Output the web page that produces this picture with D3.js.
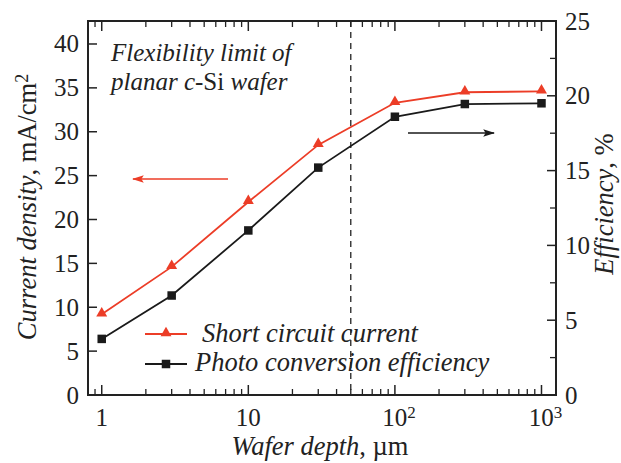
<!DOCTYPE html>
<html>
<head>
<meta charset="utf-8">
<script src="https://cdn.jsdelivr.net/npm/d3@7"></script>
<style>
body { margin: 0; background: #fff; }
</style>
</head>
<body>
<div id="chart"></div>
<script>
var width = 621,
    height = 463;

// data
var depth = [1, 3, 10, 30, 100, 300, 1000];
var current = [9.2, 14.6, 22.0, 28.5, 33.3, 34.5, 34.6];      // mA/cm2, left axis
var efficiency = [3.75, 6.65, 11.0, 15.2, 18.6, 19.45, 19.5];  // %, right axis
var leftTicks = [0, 5, 10, 15, 20, 25, 30, 35, 40];
var rightTicks = [0, 5, 10, 15, 20, 25];
var xMajor = [1, 10, 100, 1000];
var xMajorLabels = ["1", "10", "10|2", "10|3"];
var flexLimit = 50;

var red = "#ec3d27";
var ink = "#222";
var serif = "'Liberation Serif', monospace";
var tickFont = "25px",
    textFont = "26.5px";
var plot = {left: 88, right: 556, top: 21, bottom: 395};

var svg = d3.select("#chart").append("svg")
    .attr("width", width)
    .attr("height", height);

var x = d3.scaleLog().domain([0.806, 1256]).range([plot.left, plot.right]);
var yL = d3.scaleLinear().domain([0, 42.62]).range([plot.bottom, plot.top]);
var yR = d3.scaleLinear().domain([0, 25]).range([plot.bottom, plot.top]);

// minor ticks on x
var xMinor = [];
[0.1, 1, 10, 100].forEach(function(dec) {
    for (var k = 2; k <= 9; k++) {
        var v = dec * k;
        if (v > x.domain()[0] && v < x.domain()[1] && xMajor.indexOf(v) < 0) xMinor.push(v);
    }
});

var axisG = svg.append("g");
// bottom and top ticks, pointing inward
[plot.bottom, plot.top].forEach(function(yy, i) {
    var dir = i == 0 ? -1 : 1;
    axisG.selectAll(null).data(xMajor).enter().append("line")
        .attr("x1", function(d) { return x(d); })
        .attr("x2", function(d) { return x(d); })
        .attr("y1", yy).attr("y2", yy + dir * 10)
        .attr("stroke", ink).attr("stroke-width", 1.5);
    axisG.selectAll(null).data(xMinor).enter().append("line")
        .attr("x1", function(d) { return x(d); })
        .attr("x2", function(d) { return x(d); })
        .attr("y1", yy).attr("y2", yy + dir * 6)
        .attr("stroke", ink).attr("stroke-width", 1.3);
});

// left ticks
axisG.selectAll(null).data(leftTicks).enter().append("line")
    .attr("x1", plot.left).attr("x2", plot.left + 9)
    .attr("y1", function(d) { return yL(d); })
    .attr("y2", function(d) { return yL(d); })
    .attr("stroke", ink).attr("stroke-width", 1.5);
axisG.selectAll(null).data(leftTicks).enter().append("text")
    .attr("x", plot.left - 9)
    .attr("y", function(d) { return yL(d); })
    .attr("dy", "0.34em")
    .attr("text-anchor", "end")
    .style("font-size", tickFont)
    .text(function(d) { return d; });

// right ticks, major and half steps
var rightMinor = d3.range(2.5, 25, 5);
axisG.selectAll(null).data(rightTicks).enter().append("line")
    .attr("x1", plot.right).attr("x2", plot.right - 9)
    .attr("y1", function(d) { return yR(d); })
    .attr("y2", function(d) { return yR(d); })
    .attr("stroke", ink).attr("stroke-width", 1.5);
axisG.selectAll(null).data(rightMinor).enter().append("line")
    .attr("x1", plot.right).attr("x2", plot.right - 6)
    .attr("y1", function(d) { return yR(d); })
    .attr("y2", function(d) { return yR(d); })
    .attr("stroke", ink).attr("stroke-width", 1.3);
axisG.selectAll(null).data(rightTicks).enter().append("text")
    .attr("x", plot.right + 9)
    .attr("y", function(d) { return yR(d); })
    .attr("dy", "0.34em")
    .style("font-size", tickFont)
    .text(function(d) { return d; });

// x tick labels
xMajor.forEach(function(v, i) {
    var parts = xMajorLabels[i].split("|");
    var t = axisG.append("text")
        .attr("x", x(v) + (parts[1] ? 4 : 0))
        .attr("y", 426)
        .attr("text-anchor", "middle")
        .style("font-size", tickFont);
    t.append("tspan").text(parts[0]);
    if (parts[1]) t.append("tspan").attr("dy", "-0.45em").style("font-size", "17px").text(parts[1]);
});

// frame
svg.append("rect")
    .attr("x", plot.left).attr("y", plot.top)
    .attr("width", plot.right - plot.left)
    .attr("height", plot.bottom - plot.top)
    .attr("fill", "none").attr("stroke", ink).attr("stroke-width", 2);

// flexibility limit
svg.append("line")
    .attr("x1", x(flexLimit)).attr("x2", x(flexLimit))
    .attr("y1", plot.top).attr("y2", plot.bottom)
    .attr("stroke", ink).attr("stroke-width", 1.3)
    .attr("stroke-dasharray", "6,5");

// note, a touch smaller so the two lines keep apart
svg.append("text").attr("x", 111).attr("y", 61)
    .style("font-size", "25px").style("font-style", "italic")
    .text("Flexibility limit of");
var note2 = svg.append("text").attr("x", 111).attr("y", 90)
    .style("font-size", "25px").style("font-style", "italic");
note2.append("tspan").text("planar ");
note2.append("tspan").text("c");
note2.append("tspan").style("font-style", "normal").text("-Si ");
note2.append("tspan").text("wafer");

// data lines
var lineL = d3.line().x(function(d) { return x(d[0]); }).y(function(d) { return yL(d[1]); });
var lineR = d3.line().x(function(d) { return x(d[0]); }).y(function(d) { return yR(d[1]); });
var curData = d3.zip(depth, current);
var effData = d3.zip(depth, efficiency);

svg.append("path").datum(curData).attr("d", lineL)
    .attr("fill", "none").attr("stroke", red).attr("stroke-width", 1.8);
svg.append("path").datum(effData).attr("d", lineR)
    .attr("fill", "none").attr("stroke", "#1a1a1a").attr("stroke-width", 1.8);

var tri = d3.symbol().type(d3.symbolTriangle).size(52);
svg.selectAll("path.tri").data(curData).enter().append("path")
    .attr("class", "tri")
    .attr("d", tri)
    .attr("transform", function(d) { return "translate(" + x(d[0]) + "," + (yL(d[1]) - 1) + ")"; })
    .attr("fill", red);
svg.selectAll("rect.sq").data(effData).enter().append("rect")
    .attr("class", "sq")
    .attr("x", function(d) { return x(d[0]) - 4.25; })
    .attr("y", function(d) { return yR(d[1]) - 4.25; })
    .attr("width", 8.5).attr("height", 8.5)
    .attr("fill", "#1a1a1a");

// arrows
var defs = svg.append("defs");
function arrowHead(id, color) {
    defs.append("marker").attr("id", id)
        .attr("viewBox", "0 0 10 10").attr("refX", 9).attr("refY", 5)
        .attr("markerWidth", 12).attr("markerHeight", 12)
        .attr("markerUnits", "userSpaceOnUse")
        .attr("orient", "auto")
        .append("path").attr("d", "M0,1.8 L10,5 L0,8.2 L2,5 Z").attr("fill", color);
}
arrowHead("ahRed", red);
arrowHead("ahBlack", "#1a1a1a");
svg.append("line").attr("x1", 228).attr("x2", 133).attr("y1", 179).attr("y2", 179)
    .attr("stroke", red).attr("stroke-width", 1.3).attr("marker-end", "url(#ahRed)");
svg.append("line").attr("x1", 408).attr("x2", 494).attr("y1", 133).attr("y2", 133)
    .attr("stroke", "#1a1a1a").attr("stroke-width", 1.3).attr("marker-end", "url(#ahBlack)");

// legend
var legend = svg.append("g");
legend.append("line").attr("x1", 145).attr("x2", 187).attr("y1", 334).attr("y2", 334)
    .attr("stroke", red).attr("stroke-width", 1.8);
legend.append("path").attr("d", tri).attr("transform", "translate(166,333)").attr("fill", red);
legend.append("text").attr("x", 202).attr("y", 342)
    .style("font-size", textFont).style("font-style", "italic").text("Short circuit current");
legend.append("line").attr("x1", 145).attr("x2", 187).attr("y1", 364).attr("y2", 364)
    .attr("stroke", "#1a1a1a").attr("stroke-width", 1.8);
legend.append("rect").attr("x", 161.75).attr("y", 359.75).attr("width", 8.5).attr("height", 8.5)
    .attr("fill", "#1a1a1a");
legend.append("text").attr("x", 195).attr("y", 371)
    .style("font-size", textFont).style("font-style", "italic").text("Photo conversion efficiency");

// axis titles
var xt = svg.append("text").attr("x", 320).attr("y", 455)
    .attr("text-anchor", "middle").style("font-size", textFont);
xt.append("tspan").style("font-style", "italic").text("Wafer depth");
xt.append("tspan").text(", \u00b5m");

var yt = svg.append("text")
    .attr("transform", "translate(36,207) rotate(-90)")
    .attr("text-anchor", "middle").style("font-size", textFont);
yt.append("tspan").style("font-style", "italic").text("Current density");
yt.append("tspan").text(", mA/cm");
yt.append("tspan").attr("dy", "-0.45em").style("font-size", "18px").text("2");

var yt2 = svg.append("text")
    .attr("transform", "translate(613,204) rotate(-90)")
    .attr("text-anchor", "middle").style("font-size", textFont);
yt2.append("tspan").style("font-style", "italic").text("Efficiency");
yt2.append("tspan").text(", %");

svg.selectAll("text").style("font-family", serif).style("fill", ink);
</script>
</body>
</html>
